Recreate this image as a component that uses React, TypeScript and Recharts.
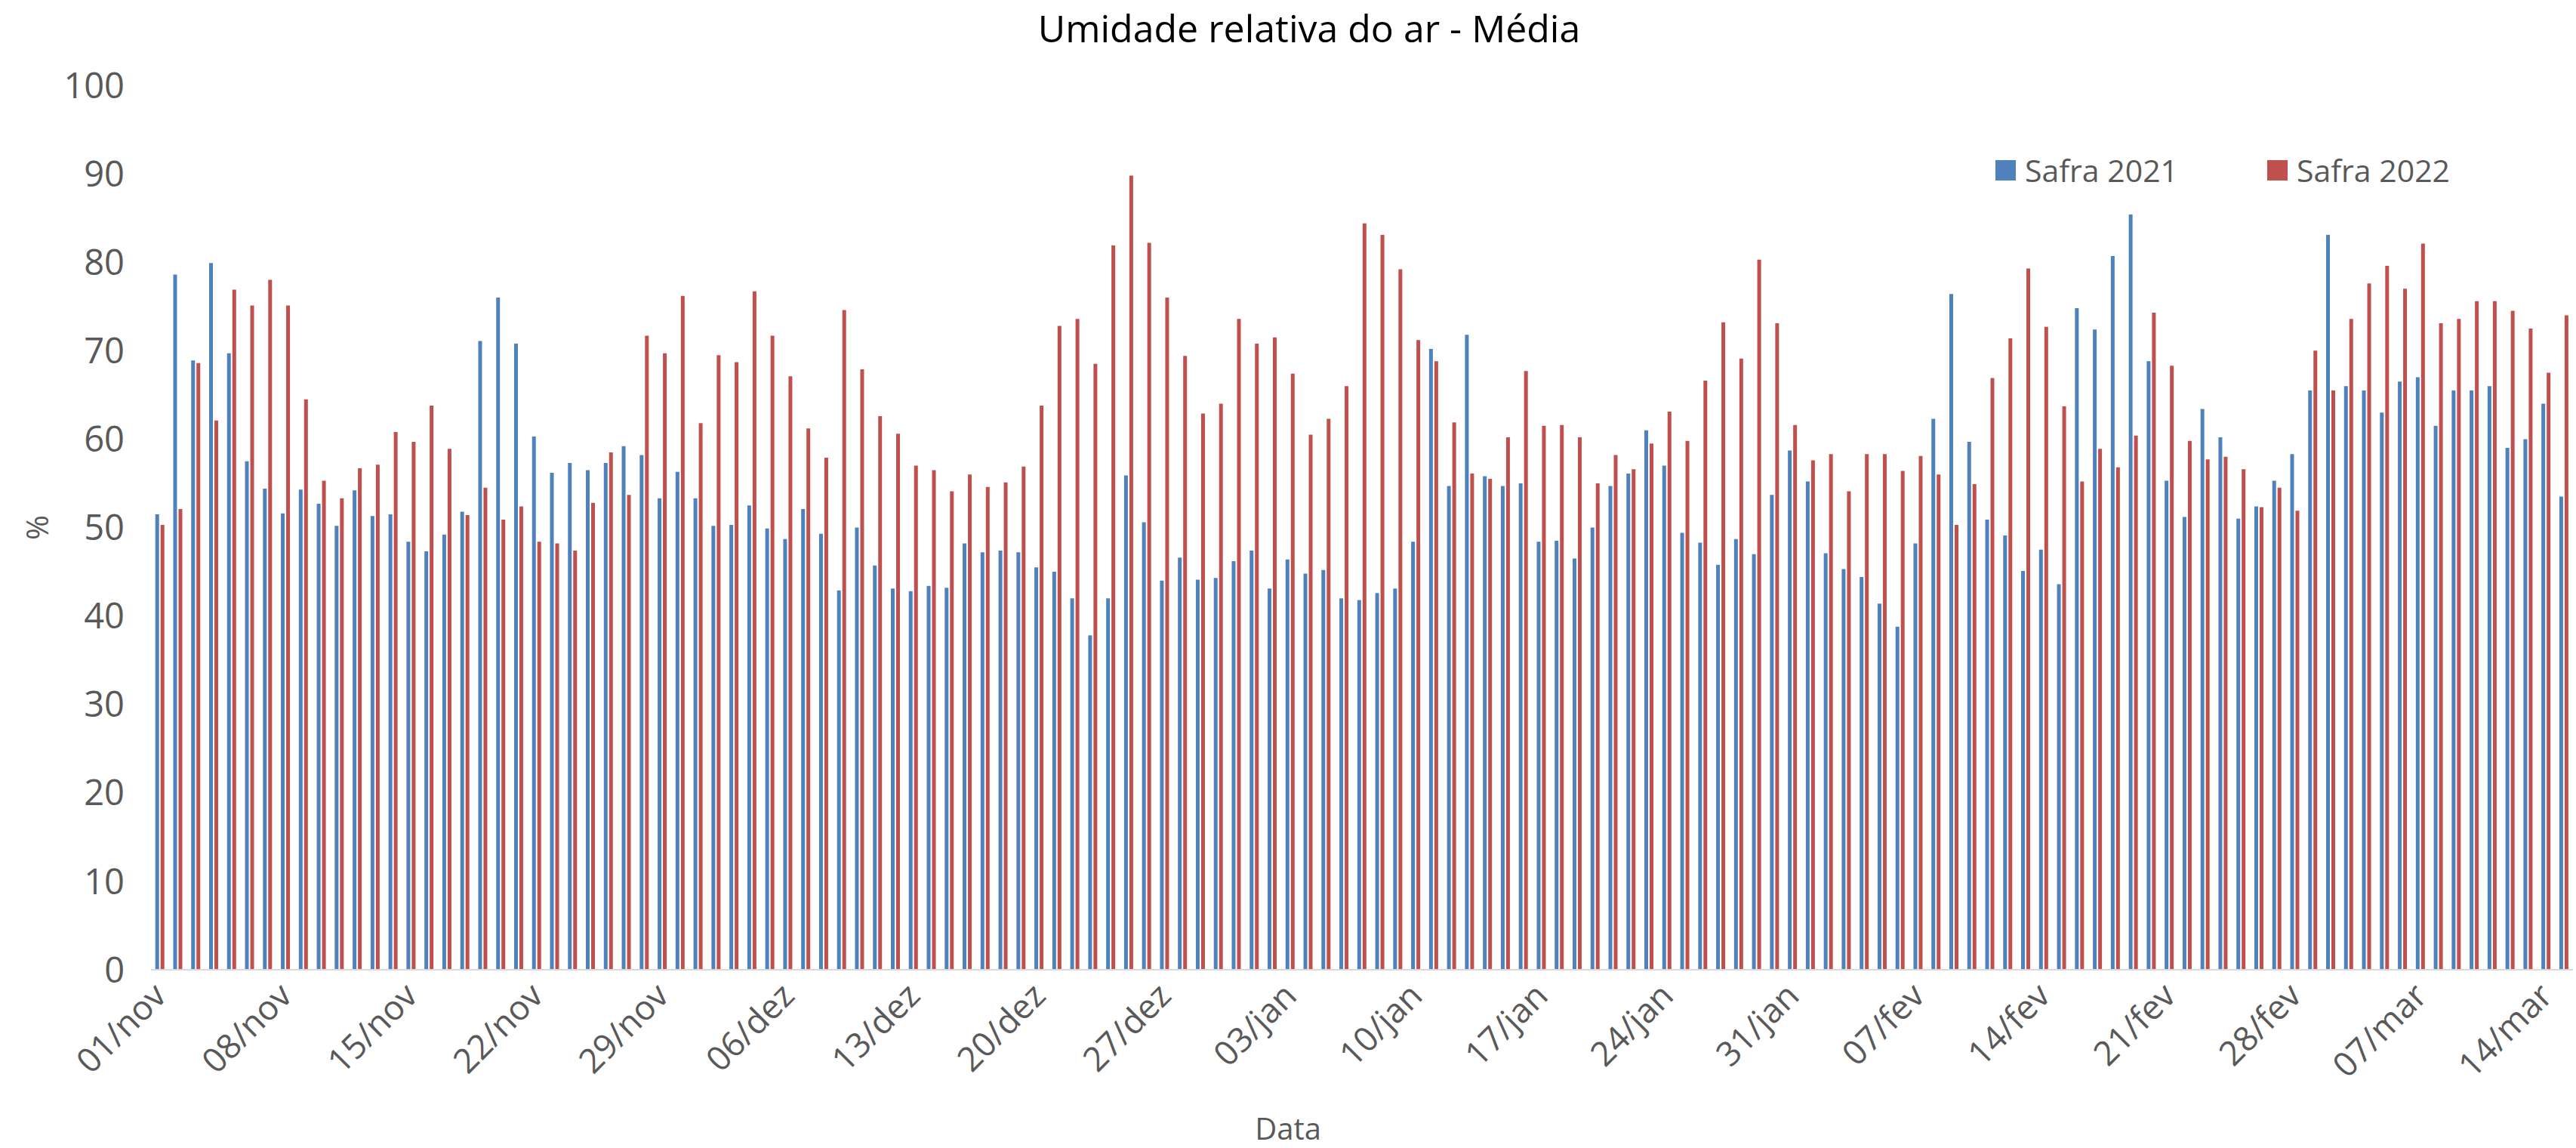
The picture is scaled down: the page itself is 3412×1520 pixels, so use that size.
import React from 'react';
import { BarChart, Bar, XAxis, YAxis, Legend, Label } from 'recharts';

const monthNames: string[] = ['nov', 'dez', 'jan', 'fev', 'mar'];
const monthDays: number[] = [30, 31, 31, 28, 15];

const safra2021: number[] = [
  51.5, 78.6, 68.9, 79.9, 69.7, 57.5, 54.4, 51.6, 54.3, 52.7, 50.2, 54.2,
  51.3, 51.5, 48.4, 47.3, 49.2, 51.8, 71.1, 76.0, 70.8, 60.3, 56.2, 57.3,
  56.5, 57.3, 59.2, 58.2, 53.3, 56.3, 53.3, 50.2, 50.3, 52.5, 49.9, 48.7,
  52.1, 49.3, 42.9, 50.0, 45.7, 43.1, 42.8, 43.4, 43.2, 48.2, 47.2, 47.4,
  47.2, 45.5, 45.0, 42.0, 37.8, 42.0, 55.9, 50.6, 44.0, 46.6, 44.1, 44.3,
  46.2, 47.4, 43.1, 46.4, 44.8, 45.2, 42.0, 41.8, 42.6, 43.1, 48.4, 70.2,
  54.7, 71.8, 55.8, 54.7, 55.0, 48.4, 48.5, 46.5, 50.0, 54.7, 56.1, 61.0,
  57.0, 49.4, 48.3, 45.8, 48.7, 47.0, 53.7, 58.7, 55.2, 47.1, 45.3, 44.4,
  41.4, 38.8, 48.2, 62.3, 76.4, 59.7, 50.9, 49.1, 45.1, 47.5, 43.6, 74.8,
  72.4, 80.7, 85.4, 68.8, 55.3, 51.2, 63.4, 60.2, 51.0, 52.4, 55.3, 58.3,
  65.5, 83.1, 66.0, 65.5, 63.0, 66.5, 67.0, 61.5, 65.5, 65.5, 66.0, 59.0,
  60.0, 64.0, 53.5,
];

const safra2022: number[] = [
  50.3, 52.1, 68.6, 62.1, 76.9, 75.1, 78.0, 75.1, 64.5, 55.3, 53.3, 56.7,
  57.1, 60.8, 59.7, 63.8, 58.9, 51.4, 54.5, 50.9, 52.4, 48.4, 48.2, 47.4,
  52.8, 58.5, 53.7, 71.7, 69.7, 76.2, 61.8, 69.5, 68.7, 76.7, 71.7, 67.1,
  61.2, 57.9, 74.6, 67.9, 62.6, 60.6, 57.0, 56.5, 54.1, 56.0, 54.6, 55.1,
  56.9, 63.8, 72.8, 73.6, 68.5, 81.9, 89.8, 82.2, 76.0, 69.4, 62.9, 64.0,
  73.6, 70.8, 71.5, 67.4, 60.5, 62.3, 66.0, 84.4, 83.1, 79.2, 71.2, 68.8,
  61.9, 56.1, 55.5, 60.2, 67.7, 61.5, 61.6, 60.2, 55.0, 58.2, 56.6, 59.5,
  63.1, 59.8, 66.6, 73.2, 69.1, 80.3, 73.1, 61.6, 57.6, 58.3, 54.1, 58.3,
  58.3, 56.4, 58.1, 56.0, 50.3, 54.9, 66.9, 71.4, 79.3, 72.7, 63.7, 55.2,
  58.9, 56.8, 60.4, 74.3, 68.3, 59.8, 57.7, 58.0, 56.6, 52.3, 54.5, 51.9,
  70.0, 65.5, 73.6, 77.6, 79.6, 77.0, 82.1, 73.1, 73.6, 75.6, 75.6, 74.5,
  72.5, 67.5, 74.0,
];

const yTicks: number[] = [0, 10, 20, 30, 40, 50, 60, 70, 80, 90, 100];

const dates: string[] = [];
monthNames.forEach((m, mi) => {
  for (let d = 1; d <= monthDays[mi]; d++) {
    dates.push(`${d < 10 ? '0' + d : d}/${m}`);
  }
});

const data = dates.map((date, i) => ({
  date,
  s2021: safra2021[i],
  s2022: safra2022[i],
}));

const FONT = '"Open Sans", sans-serif';
const GRAY = '#595959';

const XTick = (props: any) => {
  const { x, y, payload } = props;
  return (
    <g transform={`translate(${x},${y})`}>
      <text
        x={0}
        y={0}
        dy="0.35em"
        textAnchor="end"
        transform="rotate(-45)"
        fill={GRAY}
        fontSize={45}
        fontFamily={FONT}
      >
        {payload.value}
      </text>
    </g>
  );
};

const LegendContent = (props: any) => {
  const { payload } = props;
  return (
    <div style={{ display: 'flex', alignItems: 'center', fontFamily: FONT, fontSize: 41, color: GRAY }}>
      {(payload || []).map((item: any, i: number) => (
        <div key={i} style={{ display: 'flex', alignItems: 'center', marginRight: i === 0 ? 118 : 0 }}>
          <div style={{ width: 27, height: 27, background: item.color, marginRight: 12 }} />
          <span style={{ lineHeight: '50px' }}>{item.value}</span>
        </div>
      ))}
    </div>
  );
};

export default function App() {
  return (
    <div style={{ position: 'absolute', left: 0, top: 0, width: 3412, height: 1520, background: '#ffffff' }}>
      <div
        style={{
          position: 'absolute',
          left: 28,
          top: 3,
          width: 3412,
          textAlign: 'center',
          fontFamily: FONT,
          fontSize: 50,
          lineHeight: '68px',
          color: '#000000',
        }}
      >
        Umidade relativa do ar - Média
      </div>
      <BarChart
        width={3412}
        height={1520}
        data={data}
        margin={{ top: 113, right: 4, bottom: 0, left: 0 }}
        barCategoryGap="24%"
        barGap={2}
      >
        <XAxis
          dataKey="date"
          interval={6}
          tick={<XTick />}
          tickLine={false}
          tickSize={0}
          tickMargin={26}
          axisLine={{ stroke: '#D9D9D9', strokeWidth: 2 }}
          height={236}
        >
          <Label
            content={(p: any) => {
              const vb = p.viewBox || { x: 0, y: 0, width: 0, height: 0 };
              return (
                <text
                  x={1706}
                  y={vb.y + 209}
                  textAnchor="middle"
                  dominantBaseline="central"
                  fill={GRAY}
                  fontSize={40}
                  fontFamily={FONT}
                >
                  Data
                </text>
              );
            }}
          />
        </XAxis>
        <YAxis
          domain={[0, 100]}
          ticks={yTicks}
          interval={0}
          width={200}
          axisLine={false}
          tickLine={false}
          tickSize={0}
          tickMargin={35}
          tick={{ fontSize: 47, fill: GRAY, fontFamily: FONT }}
        >
          <Label
            content={(p: any) => {
              const vb = p.viewBox || { x: 0, y: 0, width: 0, height: 0 };
              const cx = vb.x + 48;
              const cy = vb.y + vb.height / 2;
              return (
                <text
                  x={cx}
                  y={cy}
                  textAnchor="middle"
                  dominantBaseline="central"
                  transform={`rotate(-90, ${cx}, ${cy})`}
                  fill={GRAY}
                  fontSize={40}
                  fontFamily={FONT}
                >
                  %
                </text>
              );
            }}
          />
        </YAxis>
        <Legend
          layout="horizontal"
          verticalAlign="middle"
          align="center"
          content={<LegendContent />}
          wrapperStyle={{ left: 2643, top: 200, width: 700 }}
        />
        <Bar dataKey="s2021" name="Safra 2021" fill="#4F81BD" isAnimationActive={false} />
        <Bar dataKey="s2022" name="Safra 2022" fill="#C0504D" isAnimationActive={false} />
      </BarChart>
    </div>
  );
}
